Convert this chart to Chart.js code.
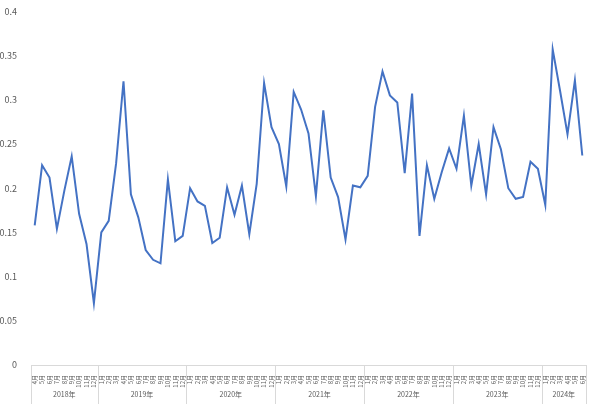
<!DOCTYPE html>
<html>
<head>
<meta charset="utf-8">
<script src="https://cdn.jsdelivr.net/npm/chart.js@4/dist/chart.umd.min.js"></script>
<style>
html,body{margin:0;padding:0;background:#fff;}
#c{display:block;}
</style>
</head>
<body>
<canvas id="c" width="597" height="406"></canvas>
<script>
const years = ['2018年','2019年','2020年','2021年','2022年','2023年','2024年'];
const yearMonths = [
  [4,5,6,7,8,9,10,11,12],
  [1,2,3,4,5,6,7,8,9,10,11,12],
  [1,2,3,4,5,6,7,8,9,10,11,12],
  [1,2,3,4,5,6,7,8,9,10,11,12],
  [1,2,3,4,5,6,7,8,9,10,11,12],
  [1,2,3,4,5,6,7,8,9,10,11,12],
  [1,2,3,4,5,6]
];
const values = [
  0.158, 0.226, 0.212, 0.154, 0.197, 0.236, 0.171, 0.137, 0.070,
  0.150, 0.163, 0.228, 0.321, 0.193, 0.167, 0.130, 0.119, 0.115, 0.210, 0.140, 0.146,
  0.200, 0.185, 0.180, 0.138, 0.144, 0.201, 0.170, 0.203, 0.148, 0.205, 0.319, 0.269,
  0.250, 0.202, 0.309, 0.289, 0.262, 0.191, 0.288, 0.212, 0.190, 0.142, 0.203, 0.201,
  0.214, 0.292, 0.332, 0.305, 0.297, 0.217, 0.307, 0.146, 0.226, 0.188, 0.218, 0.245,
  0.222, 0.282, 0.203, 0.250, 0.193, 0.269, 0.244, 0.200, 0.188, 0.190, 0.230, 0.222,
  0.181, 0.357, 0.310, 0.261, 0.322, 0.237
];
const yTicks = [0, 0.05, 0.1, 0.15, 0.2, 0.25, 0.3, 0.35, 0.4];

const labels = [];
yearMonths.forEach(ms => ms.forEach(m => labels.push(m + '月')));

const FONT = "'Noto Sans CJK JP', 'Noto Sans', sans-serif";
const GREY = '#d9d9d9';
const TXT = '#595959';

const yearAxisPlugin = {
  id: 'yearAxis',
  afterDraw(chart) {
    const x = chart.scales.x;
    const ctx = chart.ctx;
    const half = (x.getPixelForValue(1) - x.getPixelForValue(0)) / 2;
    const top = x.top;
    const bottom = chart.height - 2;
    ctx.save();
    ctx.strokeStyle = GREY;
    ctx.lineWidth = 1;
    ctx.fillStyle = TXT;
    ctx.font = '7px ' + FONT;
    ctx.textAlign = 'center';
    ctx.textBaseline = 'middle';
    let idx = 0;
    const bounds = [];
    years.forEach((yName, g) => {
      const n = yearMonths[g].length;
      const left = x.getPixelForValue(idx) - half;
      const right = x.getPixelForValue(idx + n - 1) + half;
      if (g === 0) bounds.push(left);
      bounds.push(right);
      ctx.fillText(yName, (left + right) / 2, 394);
      idx += n;
    });
    bounds.forEach(b => {
      const px = Math.round(b) + 0.5;
      ctx.beginPath();
      ctx.moveTo(px, top);
      ctx.lineTo(px, bottom);
      ctx.stroke();
    });
    ctx.restore();
  }
};

new Chart(document.getElementById('c'), {
  type: 'line',
  data: {
    labels: labels,
    datasets: [{
      data: values,
      borderColor: '#4472C4',
      borderWidth: 2,
      pointRadius: 0,
      pointHoverRadius: 0,
      tension: 0,
      fill: false
    }]
  },
  options: {
    responsive: false,
    animation: false,
    devicePixelRatio: 1,
    layout: { padding: { top: 10, right: 11, left: 0, bottom: 0 } },
    plugins: { legend: { display: false }, tooltip: { enabled: false } },
    scales: {
      x: {
        type: 'category',
        offset: true,
        grid: { display: false },
        border: { display: true, color: GREY, width: 1 },
        ticks: {
          autoSkip: false,
          minRotation: 90,
          maxRotation: 90,
          padding: 2,
          color: TXT,
          font: { size: 6, family: FONT }
        },
        afterFit(s) { s.height = 41; }
      },
      y: {
        min: 0,
        max: 0.4,
        grid: { display: false },
        border: { display: false },
        afterBuildTicks(s) { s.ticks = yTicks.map(v => ({ value: v })); },
        ticks: {
          padding: 6,
          color: TXT,
          font: { size: 9, family: FONT },
          callback: v => String(+v.toFixed(2))
        },
        afterFit(s) { s.width = 31; }
      }
    }
  },
  plugins: [yearAxisPlugin]
});
</script>
</body>
</html>
